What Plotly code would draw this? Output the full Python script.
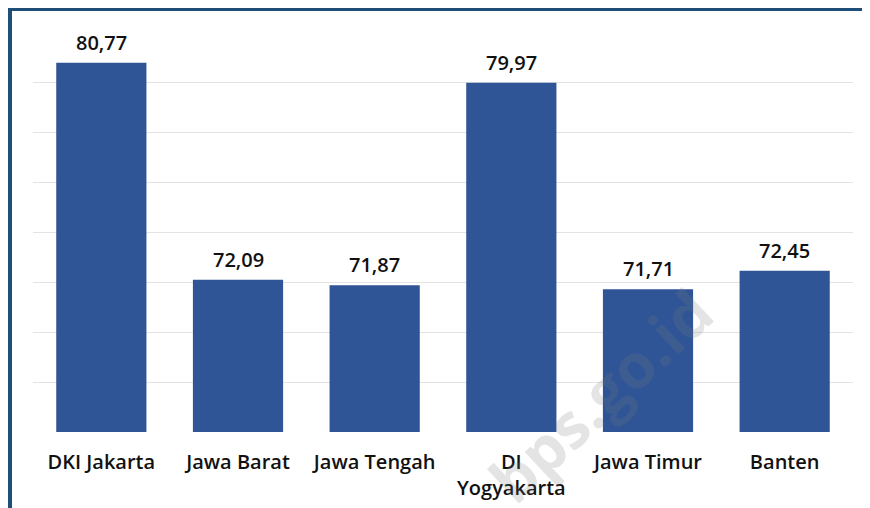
import plotly.graph_objects as go

categories = ["DKI Jakarta", "Jawa Barat", "Jawa Tengah", "DI<br>Yogyakarta", "Jawa Timur", "Banten"]
values = [80.77, 72.09, 71.87, 79.97, 71.71, 72.45]
labels = [f"{v:.2f}".replace(".", ",") for v in values]

bar_color = "#2F5597"
border_color = "#1F4E79"
text_font = dict(family="Open Sans", size=20, color="#111111", weight=600)

fig = go.Figure()
fig.add_trace(go.Bar(
    x=categories, y=values, marker_color=bar_color, marker_line_width=0,
    hoverinfo="skip",
))

for c, v, t in zip(categories, values, labels):
    fig.add_annotation(x=c, y=v, text=t, showarrow=False, yanchor="bottom",
                       yshift=5, font=text_font)

# page offset of 8px is compensated here
W, H = 862, 500
L, R, T, B = 25, 17, 24, 76
pw, ph = W - L - R, H - T - B
def px(xp):
    return (xp - L) / pw
def py(yp):
    return (H - B - yp) / ph

# watermark
fig.add_annotation(xref="paper", yref="paper", x=px(592), y=py(387), text="bps.go.id",
                   xanchor="center", yanchor="middle",
                   showarrow=False, textangle=-43,
                   font=dict(family="Open Sans", size=62, weight=700, color="rgba(120,120,120,0.2)"))

fig.add_shape(type="line", xref="paper", yref="paper", x0=px(2), x1=px(2), y0=py(502), y1=py(0),
              line=dict(color=border_color, width=4))
fig.add_shape(type="line", xref="paper", yref="paper", x0=px(0), x1=px(864), y0=py(1), y1=py(1),
              line=dict(color=border_color, width=4))

fig.update_layout(
    width=W, height=H,
    margin=dict(l=L, r=R, t=T, b=B, autoexpand=False),
    paper_bgcolor="white", plot_bgcolor="white",
    bargap=0.34, showlegend=False,
    font=text_font,
)
fig.update_xaxes(showline=False, ticks="", ticklabelstandoff=16, tickfont=text_font,
                 automargin=False)
fig.update_yaxes(range=[66, 82], dtick=2, tick0=66, showticklabels=False, automargin=False,
                 gridcolor="#e3e3e3", gridwidth=1, zeroline=False, showline=False)

fig.write_html("out.html")
